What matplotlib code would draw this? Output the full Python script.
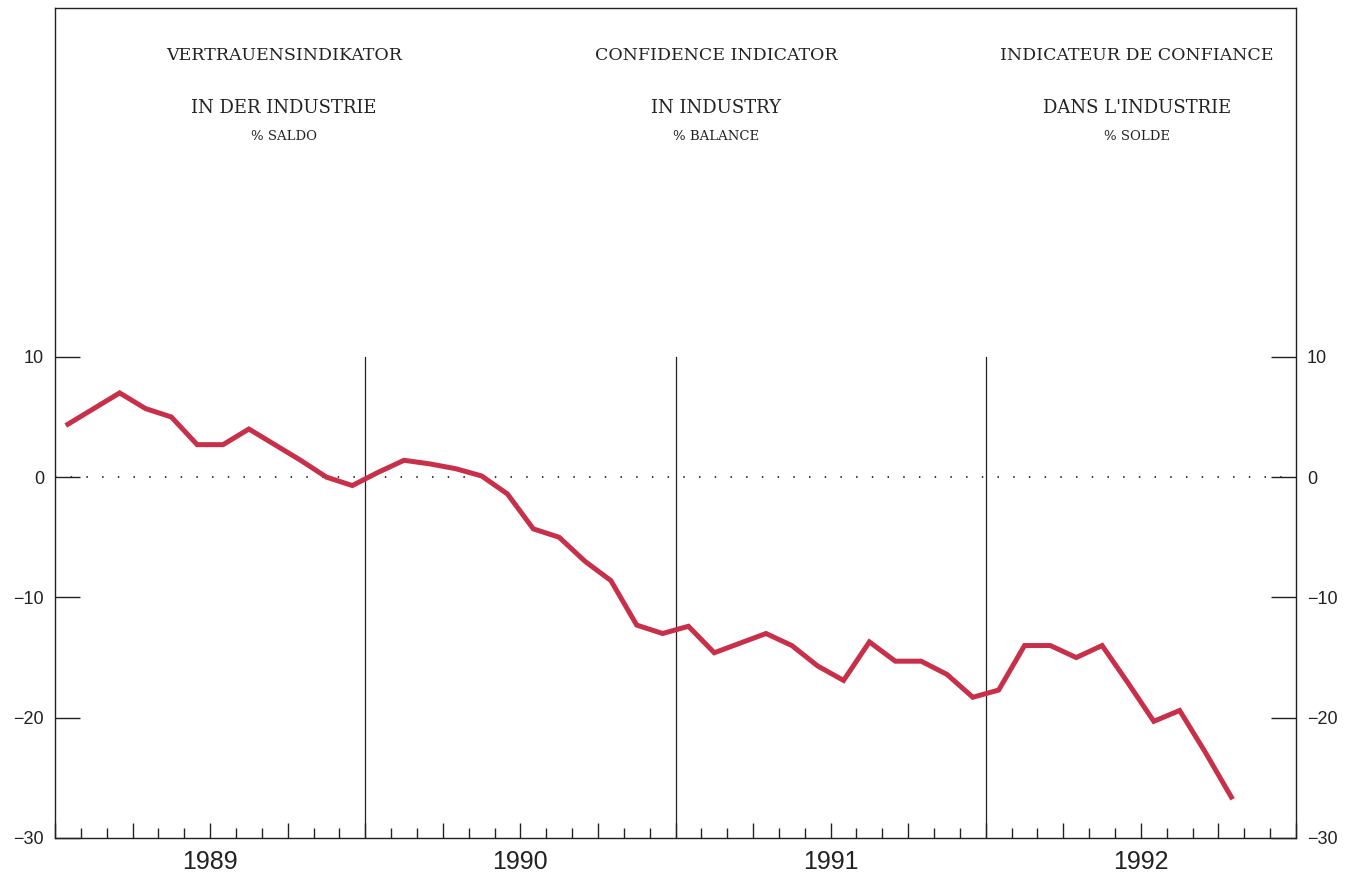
import matplotlib.pyplot as plt
import numpy as np

# monthly balance, Jan 1989 .. Oct 1992
years = ["1989", "1990", "1991", "1992"]
balance = [
    4.4, 5.7, 7.0, 5.7, 5.0, 2.7, 2.7, 4.0, 2.7, 1.4, 0.0, -0.7,
    0.4, 1.4, 1.1, 0.7, 0.1, -1.4, -4.3, -5.0, -7.0, -8.6, -12.3, -13.0,
    -12.4, -14.6, -13.8, -13.0, -14.0, -15.7, -16.9, -13.7, -15.3, -15.3, -16.4, -18.3,
    -17.7, -14.0, -14.0, -15.0, -14.0, -17.1, -20.3, -19.4, -22.9, -26.6,
]
y_ticks = [-30, -20, -10, 0, 10]
headers = [
    ("VERTRAUENSINDIKATOR", "IN DER INDUSTRIE", "% SALDO"),
    ("CONFIDENCE INDICATOR", "IN INDUSTRY", "% BALANCE"),
    ("INDICATEUR DE CONFIANCE", "DANS L'INDUSTRIE", "% SOLDE"),
]
header_x = [0.1845, 0.533, 0.872]

line_color = "#c8304a"
ink = "#222222"

fig = plt.figure(figsize=(13.56, 8.77), dpi=100)
ax = fig.add_axes([55 / 1356, 39 / 877, 1241 / 1356, 830 / 877])

months = np.arange(len(balance)) + 0.5
ax.plot(months, balance, color=line_color, lw=3.6, solid_joinstyle="miter", zorder=3)

n_months = 12 * len(years)
ax.set_xlim(0, n_months)
ax.set_ylim(-30, 39)

# zero reference and year separators
ax.plot([0, n_months], [0, 0], color=ink, lw=1.3, dashes=(0.8, 7.9), zorder=1)
for k in range(1, len(years)):
    ax.plot([12 * k, 12 * k], [-30, 10], color=ink, lw=0.9, zorder=1)

for side in ax.spines.values():
    side.set_color(ink)
    side.set_linewidth(1.0)

ax.set_xticks(np.arange(0, n_months + 1, 3))
ax.set_xticks(np.arange(0, n_months + 1, 1), minor=True)
ax.tick_params(axis="x", which="major", direction="in", length=11, width=1.0, color=ink, labelbottom=False)
ax.tick_params(axis="x", which="minor", direction="in", length=7, width=1.0, color=ink)
ax.tick_params(axis="x", top=False, which="both")

ax.set_yticks(y_ticks)
ax.tick_params(axis="y", direction="in", length=18, width=1.0, color=ink,
               left=True, right=True, labelleft=True, labelright=True,
               labelsize=13, pad=8, labelcolor=ink)
for lab in ax.get_yticklabels():
    lab.set_fontfamily("Liberation Sans")

for i, yr in enumerate(years):
    ax.text(12 * i + 6, -0.015, yr, transform=ax.get_xaxis_transform(),
            ha="center", va="top", fontsize=18, family="Liberation Sans", color=ink)

for (t1, t2, t3), xf in zip(headers, header_x):
    ax.text(xf, 0.943, t1, transform=ax.transAxes, ha="center", va="center",
            fontsize=12.5, family="DejaVu Serif", color=ink)
    ax.text(xf, 0.8795, t2, transform=ax.transAxes, ha="center", va="center",
            fontsize=13, family="DejaVu Serif", color=ink)
    ax.text(xf, 0.8446, t3, transform=ax.transAxes, ha="center", va="center",
            fontsize=9.5, family="DejaVu Serif", color=ink)

fig.savefig("out.png", dpi=100)
